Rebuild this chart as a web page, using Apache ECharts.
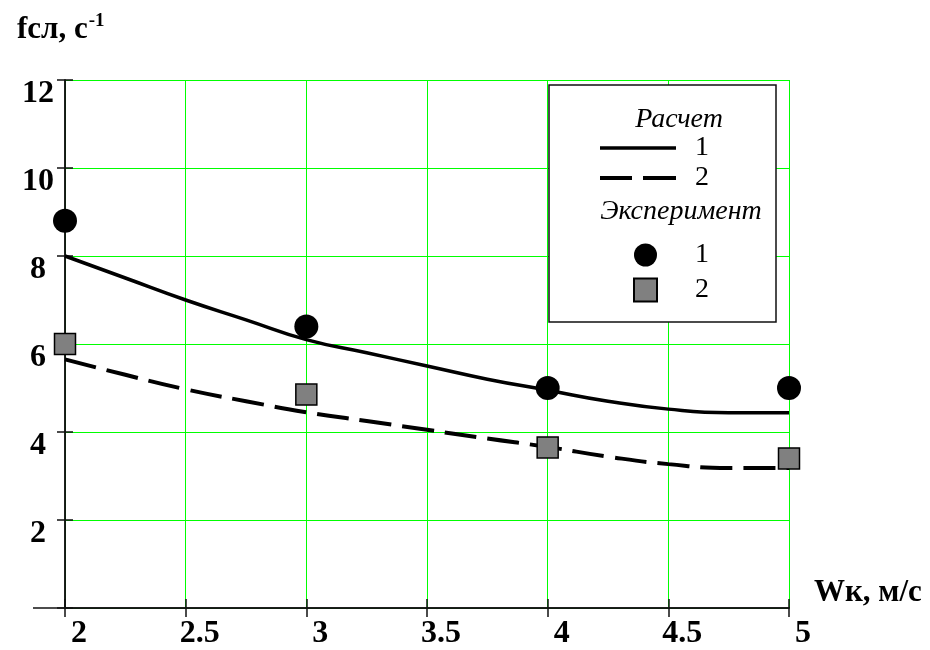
<!DOCTYPE html>
<html>
<head>
<meta charset="utf-8">
<script src="https://cdn.jsdelivr.net/npm/echarts@6/dist/echarts.min.js"></script>
<style>html,body{margin:0;padding:0;background:#fff}#c{width:930px;height:650px}</style>
</head>
<body>
<div id="c"></div>
<script>
// Data
var xCalc = [2, 2.25, 2.5, 2.75, 3, 3.25, 3.5, 3.75, 4, 4.25, 4.5, 4.75, 5];
var calc1 = [8.0, 7.5, 7.0, 6.55, 6.1, 5.8, 5.5, 5.2, 4.95, 4.7, 4.52, 4.44, 4.44];
var calc2 = [5.65, 5.3, 4.97, 4.7, 4.45, 4.25, 4.05, 3.85, 3.66, 3.44, 3.27, 3.18, 3.18];
var xExp = [2, 3, 4, 5];
var exp1 = [8.8, 6.4, 5.0, 5.0];
var exp2 = [6.0, 4.85, 3.65, 3.4];
var xTicks = [2, 2.5, 3, 3.5, 4, 4.5, 5];
var yTicks = [0, 2, 4, 6, 8, 10, 12];
var yTitle = 'fсл, с';
var yTitleSup = '-1';
var xTitle = 'Wк, м/с';
var legendHead1 = 'Расчет';
var legendHead2 = 'Эксперимент';

function zip(xs, ys) { return xs.map(function (x, i) { return [x, ys[i]]; }); }

var serif = '"Liberation Serif", "Times New Roman", serif';
var axisColor = '#111';
var tickStyle = { color: axisColor, width: 1.5 };
var axisLineStyle = { show: true, onZero: false, lineStyle: { color: axisColor, width: 1.5 } };
var chart = echarts.init(document.getElementById('c'));
var option = {
  backgroundColor: '#fff',
  animation: false,
  title: {
    left: 12, top: 7,
    text: '{a|' + yTitle + '}{s|' + yTitleSup + '}',
    textStyle: {
      rich: {
        a: { fontFamily: serif, fontWeight: 'bold', fontSize: 31, color: '#000' },
        s: { fontFamily: serif, fontWeight: 'bold', fontSize: 19, color: '#000', padding: [0, 0, 16, 1] }
      }
    }
  },
  grid: { left: 65, top: 80, width: 724, height: 528, containLabel: false },
  xAxis: [{
    type: 'value', min: 2, max: 5, interval: 0.5,
    name: xTitle, nameLocation: 'end', nameGap: 25,
    nameTextStyle: { fontFamily: serif, fontWeight: 'bold', fontSize: 31, color: '#000', verticalAlign: 'bottom', lineHeight: 30 },
    axisLine: axisLineStyle,
    axisTick: { show: true, inside: false, length: 9, lineStyle: tickStyle },
    axisLabel: { fontFamily: serif, fontWeight: 'bold', fontSize: 32, color: '#000', margin: 10, padding: [0, 0, 0, 28],
      formatter: function (v) { return xTicks.indexOf(v) >= 0 ? String(v) : ''; } },
    splitLine: { show: true, lineStyle: { color: '#00ff00', width: 1 } }
  }, {
    type: 'value', min: 2, max: 5, interval: 0.5, position: 'bottom', offset: 0,
    axisLine: axisLineStyle, axisLabel: { show: false }, splitLine: { show: false },
    axisTick: { show: true, inside: true, length: 9, lineStyle: tickStyle }
  }],
  yAxis: [{
    type: 'value', min: 0, max: 12, interval: 2,
    axisLine: axisLineStyle,
    axisTick: { show: true, inside: false, length: 8, lineStyle: tickStyle },
    axisLabel: { fontFamily: serif, fontWeight: 'bold', fontSize: 32, color: '#000', margin: 27, align: 'center',
      verticalAlign: 'top', lineHeight: 28,
      formatter: function (v) { return (v === 0 || yTicks.indexOf(v) < 0) ? '' : String(v); } },
    splitLine: { show: true, lineStyle: { color: '#00ff00', width: 1 } }
  }, {
    type: 'value', min: 0, max: 12, interval: 2, position: 'left', offset: 0,
    axisLine: axisLineStyle, axisLabel: { show: false }, splitLine: { show: false },
    axisTick: { show: true, inside: true, length: 8, lineStyle: tickStyle }
  }],
  legend: [{
    data: [
      { name: 'Расчет 1', icon: 'path://M0,0H76V3.5H0Z' },
      { name: 'Расчет 2', icon: 'path://M0,0H32V4H0ZM43,0H76V4H43Z' }
    ],
    orient: 'vertical', left: 595, top: 128,
    itemWidth: 76, itemHeight: 4, itemGap: 0,
    formatter: function (n) { return n.slice(-1); },
    textStyle: { fontFamily: serif, fontSize: 28, color: '#000', lineHeight: 30, padding: [0, 0, 0, 14] },
    selectedMode: false, z: 10
  }, {
    data: ['Эксперимент 1', 'Эксперимент 2'],
    orient: 'vertical', left: 628, top: 236,
    itemWidth: 23, itemHeight: 23, itemGap: 7,
    formatter: function (n) { return n.slice(-1); },
    textStyle: { fontFamily: serif, fontSize: 28, color: '#000', lineHeight: 24, padding: [0, 0, 0, 33] },
    selectedMode: false, z: 10
  }],
  graphic: [
    { type: 'line', z: 5, shape: { x1: 33, y1: 608, x2: 65, y2: 608 }, style: { stroke: axisColor, lineWidth: 1.5 } },
    { type: 'rect', z: 8, shape: { x: 549, y: 85, width: 227, height: 237 }, style: { fill: '#fff', stroke: axisColor, lineWidth: 1.5 } },
    { type: 'text', z: 10, x: 679, y: 120, style: { text: legendHead1, font: 'italic 28px ' + serif, fill: '#000', textAlign: 'center', textVerticalAlign: 'middle' } },
    { type: 'text', z: 10, x: 681, y: 212, style: { text: legendHead2, font: 'italic 28px ' + serif, fill: '#000', textAlign: 'center', textVerticalAlign: 'middle' } }
  ],
  series: [{
    name: 'Расчет 1', type: 'line', smooth: true, symbol: 'none', showSymbol: false,
    data: zip(xCalc, calc1), z: 3,
    lineStyle: { color: '#000', width: 3.5, type: 'solid' }, itemStyle: { color: '#000' }
  }, {
    name: 'Расчет 2', type: 'line', smooth: true, symbol: 'none', showSymbol: false,
    data: zip(xCalc, calc2), z: 3,
    lineStyle: { color: '#000', width: 4, type: [32, 11] }, itemStyle: { color: '#000' }
  }, {
    name: 'Эксперимент 1', type: 'scatter', symbol: 'circle', symbolSize: 24,
    data: zip(xExp, exp1), z: 4,
    itemStyle: { color: '#000', borderColor: '#000', borderWidth: 0, opacity: 1 }
  }, {
    name: 'Эксперимент 2', type: 'scatter', symbol: 'rect', symbolSize: 21,
    data: zip(xExp, exp2), z: 4,
    itemStyle: { color: '#808080', borderColor: '#000', borderWidth: 1.5, opacity: 1 }
  }, {
    name: 'ticks', type: 'scatter', xAxisIndex: 1, yAxisIndex: 1, data: [], silent: true
  }]
};
chart.setOption(option);
</script>
</body>
</html>
